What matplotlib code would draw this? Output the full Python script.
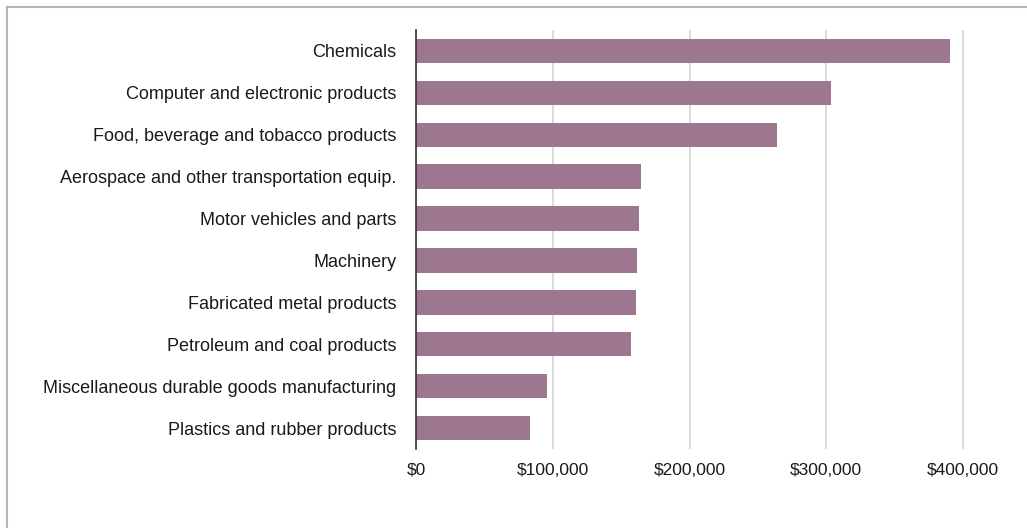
import matplotlib.pyplot as plt
from matplotlib.lines import Line2D
from matplotlib.ticker import FuncFormatter

# ----------------------------
# Data
# ----------------------------
industries = [
    "Chemicals",
    "Computer and electronic products",
    "Food, beverage and tobacco products",
    "Aerospace and other transportation equip.",
    "Motor vehicles and parts",
    "Machinery",
    "Fabricated metal products",
    "Petroleum and coal products",
    "Miscellaneous durable goods manufacturing",
    "Plastics and rubber products",
]
values = [390600, 303600, 264000, 164400, 163400, 161700, 161000, 157300, 95800, 83400]
x_ticks = [0, 100000, 200000, 300000, 400000]

plt.rcParams['font.family'] = ['Liberation Sans', 'DejaVu Sans']

fig = plt.figure(figsize=(10.27, 5.28), dpi=100)
x_max = 404000
ax_w = 547 * x_max / 400000
ax = fig.add_axes([416 / 1027, 1 - 449 / 528, ax_w / 1027, (449 - 30) / 528])

ypos = list(range(len(industries)))
ax.barh(ypos, values, height=0.58, color='#9d7690', zorder=3)

ax.set_xlim(0, x_max)
ax.set_ylim(len(industries) - 0.5, -0.5)
ax.set_yticks(ypos)
ax.set_yticklabels(industries)
ax.set_xticks(x_ticks)
ax.xaxis.set_major_formatter(FuncFormatter(lambda v, p: "${:,.0f}".format(v)))

ax.grid(axis='x', color='#d4d4d4', linewidth=1.2, zorder=0)
for s in ['top', 'right', 'bottom']:
    ax.spines[s].set_visible(False)
ax.spines['left'].set_color('#333333')
ax.spines['left'].set_linewidth(1.2)
ax.spines['left'].set_zorder(4)
ax.tick_params(axis='y', length=0, pad=14, labelsize=13, labelcolor='#1a1a1a')
ax.tick_params(axis='x', length=0, pad=10, labelsize=12.5, labelcolor='#1a1a1a')

# light frame around the figure (top and left edges)
fig.add_artist(Line2D([7 / 1027, 1], [1 - 7 / 528, 1 - 7 / 528], transform=fig.transFigure,
                      color='#b5b5b5', linewidth=1.5))
fig.add_artist(Line2D([7 / 1027, 7 / 1027], [0, 1 - 7 / 528], transform=fig.transFigure,
                      color='#b5b5b5', linewidth=1.5))

fig.savefig("out.png", dpi=100)
